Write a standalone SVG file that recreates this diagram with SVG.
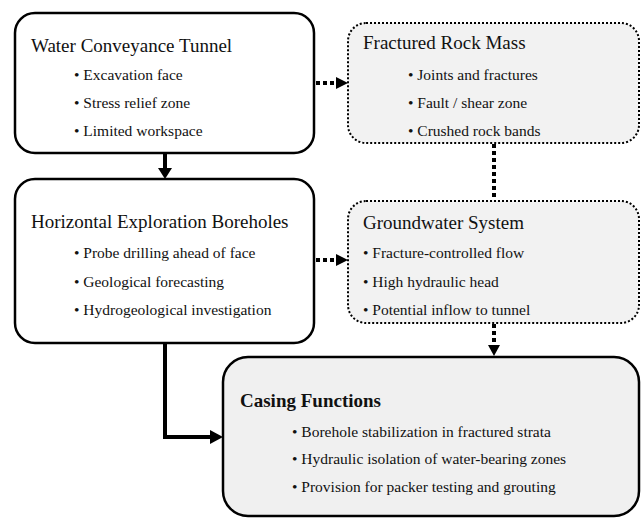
<svg xmlns="http://www.w3.org/2000/svg" width="641" height="518" viewBox="0 0 641 518">
<style>
text{font-family:"Liberation Serif","Times New Roman",serif;fill:#111}
.t{font-size:19px}
.tb{font-size:19px;font-weight:bold}
.b{font-size:15.5px}
.solid{fill:#fff;stroke:#000;stroke-width:2.5}
.dot{fill:#f2f2f2;stroke:#000;stroke-width:2;stroke-dasharray:2 2}
.cas{fill:#f0f0f0;stroke:#000;stroke-width:2.5}
.cs{fill:none;stroke:#000;stroke-width:4}
.cd{fill:none;stroke:#000;stroke-width:4;stroke-dasharray:4 3}
.ah{fill:#000}
</style>
<rect width="641" height="518" fill="#fff"/>
<g id="connectors">
<line class="cd" x1="316" y1="83" x2="337" y2="83"/>
<polygon class="ah" points="336,77 348,83 336,89"/>
<line class="cs" x1="165" y1="154" x2="165" y2="170"/>
<polygon class="ah" points="158,168 172,168 165,179"/>
<line class="cd" x1="494" y1="144" x2="494" y2="200"/>
<line class="cd" x1="316" y1="260" x2="337" y2="260"/>
<polygon class="ah" points="336,254 348,260 336,266"/>
<line class="cd" x1="494" y1="324" x2="494" y2="346"/>
<polygon class="ah" points="488,345 500,345 494,356"/>
<path class="cs" d="M165 343 V437 H212"/>
<polygon class="ah" points="210,430 223,437 210,444"/>
</g>
<g id="tunnel">
<rect class="solid" x="15" y="13" width="299" height="140" rx="20"/>
<text class="t" x="31" y="52">Water Conveyance Tunnel</text>
<text class="b" x="74" y="80">• Excavation face</text>
<text class="b" x="74" y="108">• Stress relief zone</text>
<text class="b" x="74" y="136">• Limited workspace</text>
</g>
<g id="rock">
<rect class="dot" x="348" y="23" width="291" height="120" rx="18"/>
<text class="t" x="363" y="49">Fractured Rock Mass</text>
<text class="b" x="408" y="80">• Joints and fractures</text>
<text class="b" x="408" y="108">• Fault / shear zone</text>
<text class="b" x="408" y="136">• Crushed rock bands</text>
</g>
<g id="boreholes">
<rect class="solid" x="15" y="179" width="299" height="164" rx="20"/>
<text class="t" x="31" y="228">Horizontal Exploration Boreholes</text>
<text class="b" x="74" y="258">• Probe drilling ahead of face</text>
<text class="b" x="74" y="287">• Geological forecasting</text>
<text class="b" x="74" y="315">• Hydrogeological investigation</text>
</g>
<g id="groundwater">
<rect class="dot" x="348" y="201" width="291" height="122" rx="18"/>
<text class="t" x="363" y="229">Groundwater System</text>
<text class="b" x="363" y="258">• Fracture-controlled flow</text>
<text class="b" x="363" y="287">• High hydraulic head</text>
<text class="b" x="363" y="315">• Potential inflow to tunnel</text>
</g>
<g id="casing">
<rect class="cas" x="223" y="357" width="416" height="159" rx="25"/>
<text class="tb" x="240" y="407">Casing Functions</text>
<text class="b" x="292" y="437">• Borehole stabilization in fractured strata</text>
<text class="b" x="292" y="464">• Hydraulic isolation of water-bearing zones</text>
<text class="b" x="292" y="492">• Provision for packer testing and grouting</text>
</g>
</svg>
